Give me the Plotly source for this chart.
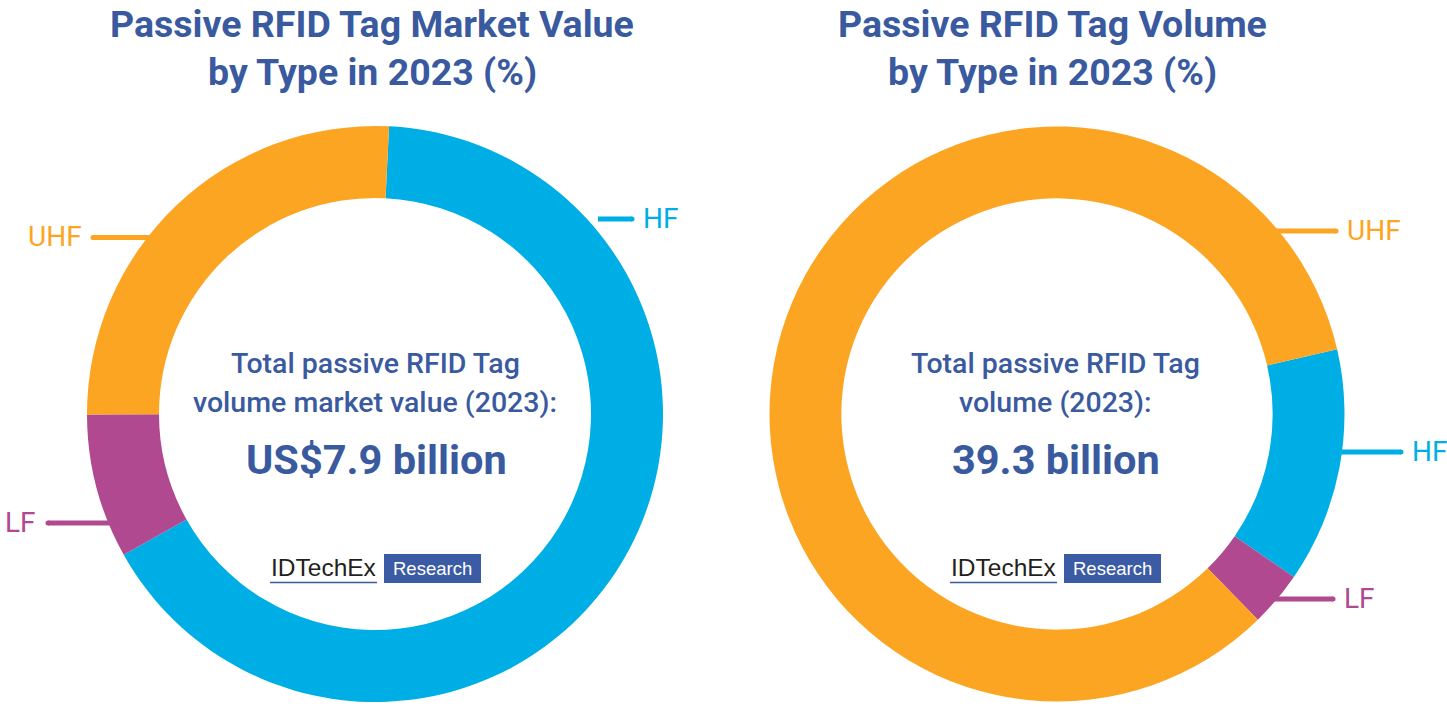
import plotly.graph_objects as go

W, H = 1447, 707

# ---- data ----
types = ["HF", "LF", "UHF"]
value_share_2023 = [66.1, 8.1, 25.8]      # % of market value
volume_share_2023 = [13.2, 3.1, 83.7]     # % of tag volume
type_colors = {"HF": "#00AEE6", "LF": "#B0498F", "UHF": "#FCA522"}

titles = ["Passive RFID Tag Market Value", "Passive RFID Tag Volume"]
subtitle = "by Type in 2023 (%)"
center_lines = [["Total passive RFID Tag", "volume market value (2023):"],
                ["Total passive RFID Tag", "volume (2023):"]]
center_totals = ["US$7.9 billion", "39.3 billion"]

NAVY = "#3A5A9F"


def px(x):
    return x / W


def py(y):
    return 1 - y / H


# donut geometry (pixels)
donuts = [dict(cx=375, cy=414, r=288, rot=2.8, vals=value_share_2023),
          dict(cx=1057, cy=414, r=287.5, rot=77, vals=volume_share_2023)]

fig = go.Figure()
for d in donuts:
    fig.add_trace(go.Pie(
        labels=types, values=d["vals"], sort=False, direction="clockwise",
        rotation=d["rot"], hole=0.75, textinfo="none", hoverinfo="label+percent",
        marker=dict(colors=[type_colors[t] for t in types], line=dict(width=0)),
        domain=dict(x=[px(d["cx"] - d["r"]), px(d["cx"] + d["r"])],
                    y=[py(d["cy"] + d["r"]), py(d["cy"] - d["r"])]),
        showlegend=False))

annotations = []
shapes = []


def text(x, y, s, size, color, anchor="center", family="Roboto", weight="normal"):
    annotations.append(dict(x=px(x), y=py(y), xref="paper", yref="paper", text=s,
                            showarrow=False, xanchor=anchor, yanchor="middle",
                            font=dict(family=family, size=size, color=color, weight=weight)))


# titles
title_cx = [372, 1052]
for i, t in enumerate(titles):
    text(title_cx[i], 24, t, 37.5, NAVY, weight="bold")
    text(title_cx[i], 72, subtitle, 37.5, NAVY, weight="bold")

# center text
for i, d in enumerate(donuts):
    cx = d["cx"] - 2 * i
    text(cx, 363, center_lines[i][0], 28.5, NAVY, weight=500)
    text(cx, 402, center_lines[i][1], 28.5, NAVY, weight=500)
    text(cx + 1, 459, center_totals[i], 41.5, NAVY, weight="bold")

# logos
logo_x = [270, 950]
for lx in logo_x:
    text(lx - 1, 567, "IDTechEx", 24.5, "#231F20", anchor="left", family="Liberation Sans")
    shapes.append(dict(type="line", xref="paper", yref="paper",
                       x0=px(lx), x1=px(lx + 107), y0=py(582.5), y1=py(582.5),
                       line=dict(color="#3A5A9F", width=1.5)))
    shapes.append(dict(type="rect", xref="paper", yref="paper",
                       x0=px(lx + 114), x1=px(lx + 211), y0=py(583), y1=py(554),
                       fillcolor="#3B5BA5", line=dict(width=0)))
    text(lx + 162.5, 568.5, "Research", 18.5, "white", family="Liberation Sans")

# leader lines + labels: (type, y, x_outer_end, x_inner_end, label_x, anchor)
leaders = [
    ("UHF", 237.5, 93, 160, 84, "right"),
    ("HF", 219, 632, 598, 641, "left"),
    ("LF", 523, 48, 120, 38, "right"),
    ("UHF", 231, 1336, 1268, 1345, "left"),
    ("HF", 452, 1401, 1330, 1410, "left"),
    ("LF", 599, 1333, 1266, 1342, "left"),
]
for t, y, xo, xi, lx, anc in leaders:
    c = type_colors[t]
    shapes.append(dict(type="line", xref="paper", yref="paper",
                       x0=px(xo), x1=px(xi), y0=py(y), y1=py(y),
                       line=dict(color=c, width=5)))
    shapes.append(dict(type="circle", xref="paper", yref="paper",
                       x0=px(xo - 2.5), x1=px(xo + 2.5), y0=py(y + 2.5), y1=py(y - 2.5),
                       fillcolor=c, line=dict(width=0)))
    text(lx, y - 1, t, 28, c, anchor=anc)

fig.update_layout(width=W, height=H, margin=dict(l=0, r=0, t=0, b=0),
                  paper_bgcolor="white", plot_bgcolor="white",
                  annotations=annotations, shapes=shapes)

fig.write_html("out.html")
